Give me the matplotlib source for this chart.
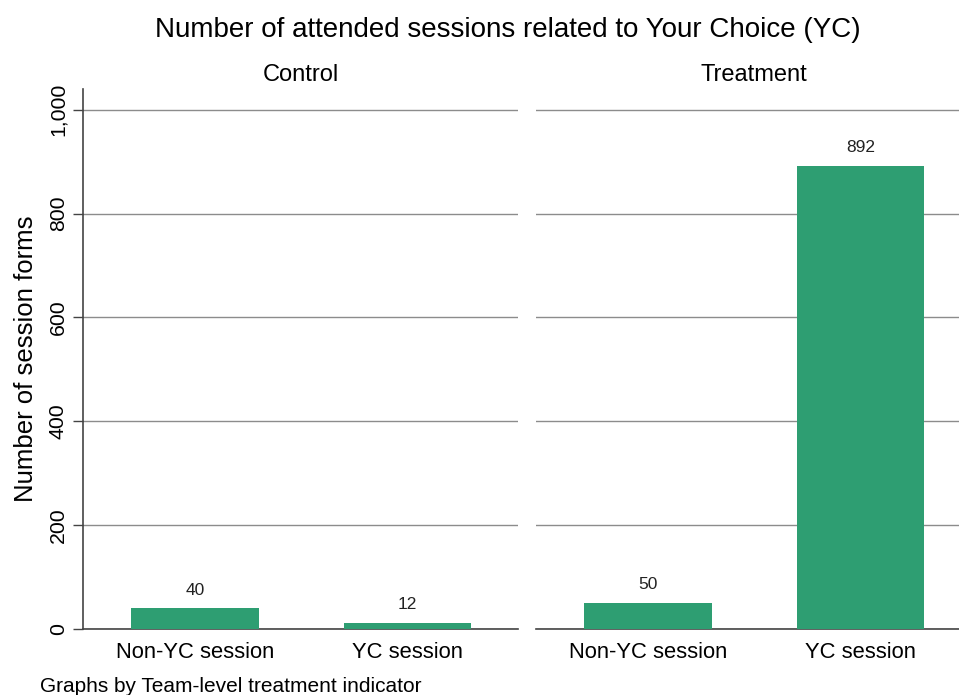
import matplotlib
matplotlib.use("Agg")
import matplotlib.pyplot as plt

plt.rcParams['font.family'] = ['Liberation Sans', 'DejaVu Sans']

panels = ["Control", "Treatment"]
categories = ["Non-YC session", "YC session"]
values = {"Control": [40, 12], "Treatment": [50, 892]}
yticks = [0, 200, 400, 600, 800, 1000]
yticklabels = ["0", "200", "400", "600", "800", "1,000"]

W, H = 959, 695
fig = plt.figure(figsize=(W / 100, H / 100), dpi=100)

bottom_px, top_px = 629, 89
panel_x = [(83, 518), (536, 971)]
bar_color = "#2e9e72"

for i, (name, (x0, x1)) in enumerate(zip(panels, panel_x)):
    ax = fig.add_axes([x0 / W, 1 - bottom_px / H, (x1 - x0) / W, (bottom_px - top_px) / H])
    xs = [1, 2]
    ax.bar(xs, values[name], width=0.6, color=bar_color, zorder=3)
    for x, v in zip(xs, values[name]):
        ax.annotate(str(v), (x, v), xytext=(0, 13), textcoords="offset points",
                    ha="center", va="center", fontsize=12.5, color="#222222")
    ax.set_xlim(0.473, 2.52)
    ax.set_ylim(0, 1040)
    ax.set_yticks(yticks)
    ax.yaxis.grid(True, color="#8c8c8c", linewidth=1.0, zorder=0)
    ax.set_axisbelow(True)
    ax.set_xticks(xs)
    ax.set_xticklabels(categories, fontsize=15.8)
    ax.tick_params(axis="x", length=0, pad=9)
    for s in ["top", "right"]:
        ax.spines[s].set_visible(False)
    ax.spines["bottom"].set_color("#444444")
    ax.spines["bottom"].set_linewidth(1.2)
    ax.set_title(name, fontsize=17, pad=6)
    if i == 0:
        ax.set_yticklabels(yticklabels, rotation=90, va="center", fontsize=15.3)
        ax.tick_params(axis="y", length=7, width=1, color="#444444", pad=4)
        ax.spines["left"].set_color("#444444")
        ax.spines["left"].set_linewidth(1.2)
        ax.set_ylabel("Number of session forms", fontsize=18.5, labelpad=8)
    else:
        ax.spines["left"].set_visible(False)
        ax.tick_params(axis="y", length=0, labelleft=False)

fig.text(507.5 / W, 1 - 30 / H, "Number of attended sessions related to Your Choice (YC)",
         ha="center", va="center", fontsize=20)
fig.text(40 / W, 1 - 686 / H, "Graphs by Team-level treatment indicator",
         ha="left", va="center", fontsize=15)

fig.savefig("out.png", dpi=100, facecolor="white")
